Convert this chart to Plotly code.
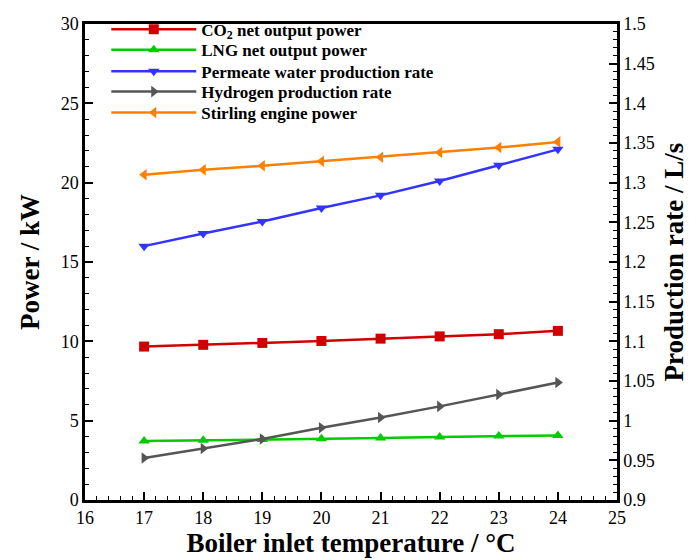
import plotly.graph_objects as go

temperature = [17, 18, 19, 20, 21, 22, 23, 24]
co2_power = [9.67, 9.78, 9.90, 10.02, 10.17, 10.31, 10.45, 10.66]
lng_power = [3.72, 3.76, 3.82, 3.86, 3.90, 3.97, 4.03, 4.07]
permeate_rate = [1.220, 1.236, 1.251, 1.268, 1.284, 1.302, 1.322, 1.342]
hydrogen_rate = [0.953, 0.965, 0.977, 0.991, 1.004, 1.018, 1.033, 1.048]
stirling_power = [20.50, 20.81, 21.06, 21.35, 21.60, 21.90, 22.21, 22.57]

FONT = "Liberation Serif, Times New Roman, serif"

fig = go.Figure()

# legend row centres (paper y)
legend_rows = [0.988, 0.945, 0.900, 0.857, 0.813]

series = [
    (co2_power, "CO<sub>2</sub> net output power", "#d00000", "square", "y"),
    (lng_power, "LNG net output power", "#00cc00", "triangle-up", "y"),
    (permeate_rate, "Permeate water production rate", "#3333ff", "triangle-down", "y2"),
    (hydrogen_rate, "Hydrogen production rate", "#555555", "triangle-right", "y2"),
    (stirling_power, "Stirling engine power", "#ff8000", "triangle-left", "y"),
]

legend_layout = {}
for i, (y, name, color, symbol, axis) in enumerate(series):
    lname = "legend" if i == 0 else f"legend{i+1}"
    fig.add_trace(go.Scatter(
        x=temperature, y=y, name=f"<b>{name}</b>", mode="lines+markers",
        line=dict(color=color, width=2.5),
        marker=dict(symbol=symbol, size=10, color=color),
        yaxis=axis, legend=lname,
    ))
    legend_layout[lname] = dict(
        x=0.04, y=legend_rows[i], xanchor="left", yanchor="middle",
        bgcolor="rgba(0,0,0,0)", borderwidth=0,
        font=dict(family=FONT, size=17, color="black"),
        itemwidth=85,
    )

axis_common = dict(
    showline=True, linecolor="black", linewidth=2.5,
    ticks="inside", ticklen=8, tickwidth=2, tickcolor="black",
    showgrid=False, zeroline=False, automargin=False,
    tickfont=dict(family=FONT, size=18, color="black"),
)

fig.update_layout(
    width=689, height=560,
    margin=dict(l=85, r=72, t=14, b=60),
    paper_bgcolor="white", plot_bgcolor="white",
    font=dict(family=FONT, color="black"),
    xaxis=dict(
        range=[16, 25], dtick=1, tick0=16, mirror=True,
        minor=dict(dtick=0.2, ticks="inside", ticklen=4, tickcolor="black", tickwidth=1),
        title=dict(text="<b>Boiler inlet temperature / °C</b>", font=dict(family=FONT, size=27), standoff=4),
        **axis_common,
    ),
    yaxis=dict(
        range=[0, 30], dtick=5, tick0=0,
        minor=dict(dtick=1, ticks="inside", ticklen=4, tickcolor="black", tickwidth=1),
        title=dict(text="<b>Power / kW</b>", font=dict(family=FONT, size=27), standoff=14),
        **axis_common,
    ),
    yaxis2=dict(
        range=[0.9, 1.5], dtick=0.05, tick0=0.9, overlaying="y", side="right",
        minor=dict(dtick=0.01, ticks="inside", ticklen=4, tickcolor="black", tickwidth=1),
        title=dict(text="<b>Production rate / L/s</b>", font=dict(family=FONT, size=27), standoff=19),
        **axis_common,
    ),
    showlegend=True,
    **legend_layout,
)

fig.write_html("out.html")
